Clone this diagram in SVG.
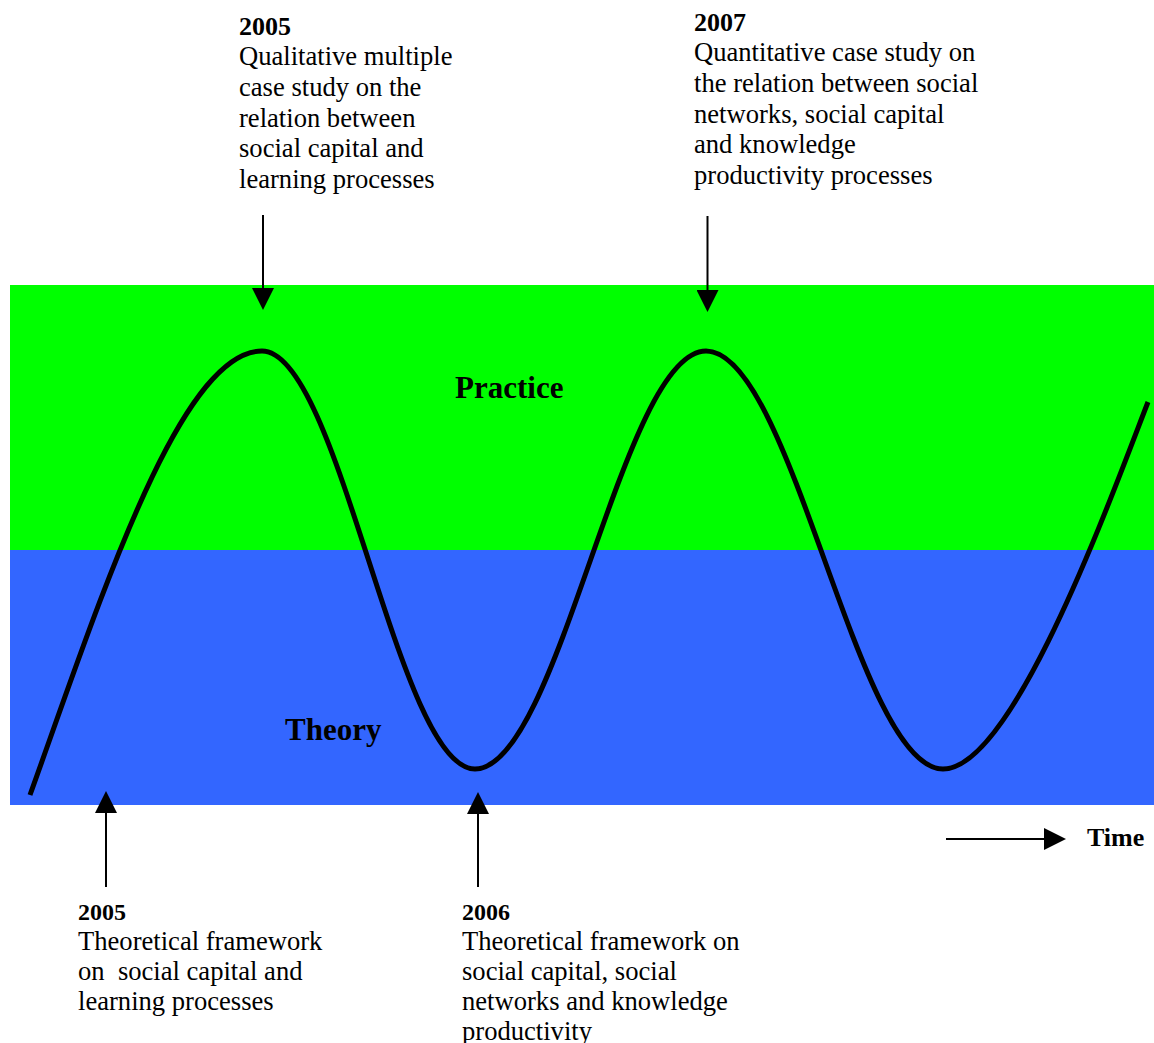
<svg xmlns="http://www.w3.org/2000/svg" width="1154" height="1043" viewBox="0 0 1154 1043">
  <defs>
    <style>
      .txt { font-family: "Liberation Serif", "Times New Roman", serif; font-size: 26.6px; fill: #000; }
      .yr { font-family: "Liberation Serif", "Times New Roman", serif; font-weight: bold; font-size: 26px; fill: #000; }
      .yr-s { font-family: "Liberation Serif", "Times New Roman", serif; font-weight: bold; font-size: 24px; fill: #000; }
      .band { font-family: "Liberation Serif", "Times New Roman", serif; font-weight: bold; font-size: 31px; fill: #000; }
      .pre { white-space: pre; }
      .arrow { stroke: #000; stroke-width: 2; fill: none; marker-end: url(#head); }
      .wave { stroke: #000; stroke-width: 5; fill: none; stroke-linecap: butt; stroke-linejoin: round; }
    </style>
    <marker id="head" viewBox="0 0 22 22" markerWidth="22" markerHeight="22" markerUnits="userSpaceOnUse" refX="2" refY="11" orient="auto">
      <path d="M0,0 L22,11 L0,22 z" fill="#000"/>
    </marker>
  </defs>

  <rect width="1154" height="1043" fill="#fff"/>

  <!-- practice / theory bands -->
  <g id="band-practice">
    <rect x="10" y="285" width="1144" height="265" fill="#00ff00"/>
    <text class="band" x="455" y="398">Practice</text>
  </g>
  <g id="band-theory">
    <rect x="10" y="550" width="1144" height="255" fill="#3366ff"/>
    <text class="band" x="285" y="740">Theory</text>
  </g>

  <!-- oscillating path between theory and practice -->
  <g id="wave">
    <path class="wave" d="M30,795 C100,600 180,351 262,351 C339.5,351 397.5,769 475,769 C559,769 622,351 706,351 C792,351 857,769 943,769 C1013,769 1110,500 1148,402"/>
  </g>

  <!-- connectors -->
  <g id="connectors">
    <line class="arrow" x1="263" y1="215" x2="263" y2="290"/>
    <line class="arrow" x1="707.5" y1="216" x2="707.5" y2="292"/>
    <line class="arrow" x1="106" y1="887" x2="106" y2="811"/>
    <line class="arrow" x1="478" y1="887" x2="478" y2="812"/>
    <line class="arrow" x1="946" y1="839" x2="1046" y2="839"/>
  </g>

  <g id="note-2005-practice">
    <text class="yr" x="239" y="35">2005</text>
    <text class="txt" x="239" y="65">Qualitative multiple</text>
    <text class="txt" x="239" y="96">case study on the</text>
    <text class="txt" x="239" y="126.5">relation between</text>
    <text class="txt" x="239" y="157">social capital and</text>
    <text class="txt" x="239" y="188">learning processes</text>
  </g>

  <g id="note-2007-practice">
    <text class="yr" x="694" y="31">2007</text>
    <text class="txt" x="694" y="61">Quantitative case study on</text>
    <text class="txt" x="694" y="92">the relation between social</text>
    <text class="txt" x="694" y="122.5">networks, social capital</text>
    <text class="txt" x="694" y="153">and knowledge</text>
    <text class="txt" x="694" y="184">productivity processes</text>
  </g>

  <g id="note-2005-theory">
    <text class="yr-s" x="78" y="920">2005</text>
    <text class="txt" x="78" y="950">Theoretical framework</text>
    <text class="txt pre" x="78" y="980" xml:space="preserve">on  social capital and</text>
    <text class="txt" x="78" y="1010">learning processes</text>
  </g>

  <g id="note-2006-theory">
    <text class="yr-s" x="462" y="920">2006</text>
    <text class="txt" x="462" y="950">Theoretical framework on</text>
    <text class="txt" x="462" y="980">social capital, social</text>
    <text class="txt" x="462" y="1010">networks and knowledge</text>
    <text class="txt" x="462" y="1040">productivity</text>
  </g>

  <g id="time-label">
    <text class="yr" x="1087" y="846">Time</text>
  </g>
</svg>
